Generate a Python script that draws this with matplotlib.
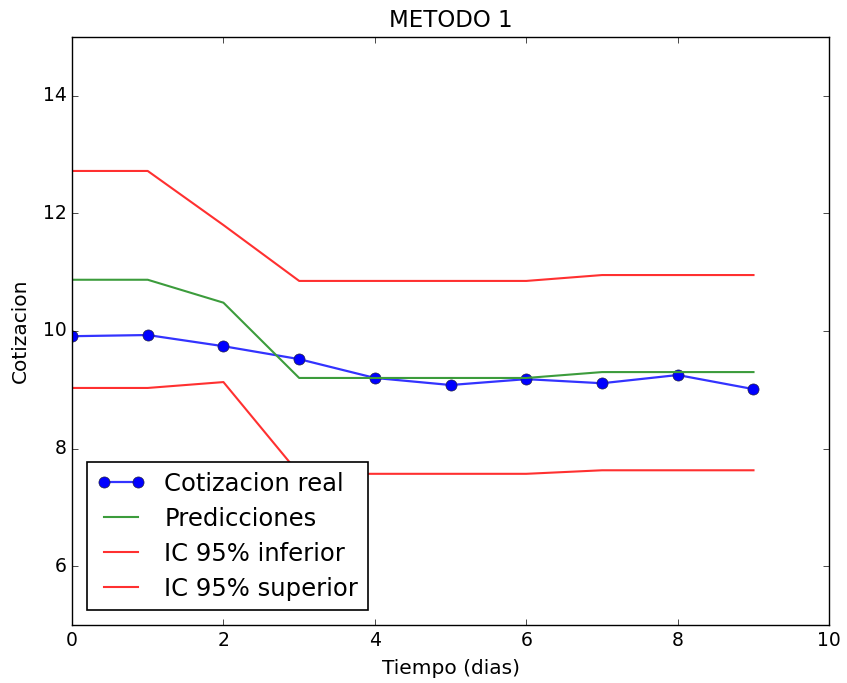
import matplotlib
matplotlib.use("Agg")
import matplotlib.pyplot as plt

plt.style.use("classic")

dias = [0, 1, 2, 3, 4, 5, 6, 7, 8, 9]
cotizacion_real = [9.91, 9.93, 9.74, 9.52, 9.20, 9.08, 9.18, 9.11, 9.25, 9.01]
predicciones = [10.87, 10.87, 10.48, 9.20, 9.20, 9.20, 9.20, 9.30, 9.30, 9.30]
ic_inferior = [9.03, 9.03, 9.13, 7.57, 7.57, 7.57, 7.57, 7.63, 7.63, 7.63]
ic_superior = [12.72, 12.72, 11.80, 10.85, 10.85, 10.85, 10.85, 10.95, 10.95, 10.95]

fig = plt.figure(figsize=(8.47, 6.83), dpi=100, facecolor="white")
ax = fig.add_axes([0.085, 0.085, 0.894, 0.861])

ax.plot(dias, cotizacion_real, "-o", color=(0.2, 0.2, 1.0), lw=1.6, markersize=8,
        markerfacecolor="b", markeredgecolor="#222244", label="Cotizacion real")
ax.plot(dias, predicciones, "-", color="#3c9c3c", lw=1.5, label="Predicciones")
ax.plot(dias, ic_inferior, "-", color="#ff3030", lw=1.5, label="IC 95% inferior")
ax.plot(dias, ic_superior, "-", color="#ff3030", lw=1.5, label="IC 95% superior")

ax.set_xlim(0, 10)
ax.set_ylim(5, 15)
ax.set_yticks([6, 8, 10, 12, 14])
ax.tick_params(labelsize=13.5)
ax.set_title("METODO 1", fontsize=16.5, y=1.005)
ax.set_xlabel("Tiempo (dias)", fontsize=14.5, labelpad=7)
ax.set_ylabel("Cotizacion", fontsize=14.5, labelpad=9)
leg = ax.legend(loc="lower left", fontsize=17.5, numpoints=2, labelspacing=0.45,
                borderaxespad=0.6, handletextpad=0.8)
leg.get_frame().set_linewidth(1.2)

fig.savefig("out.png", dpi=100, facecolor="white")
